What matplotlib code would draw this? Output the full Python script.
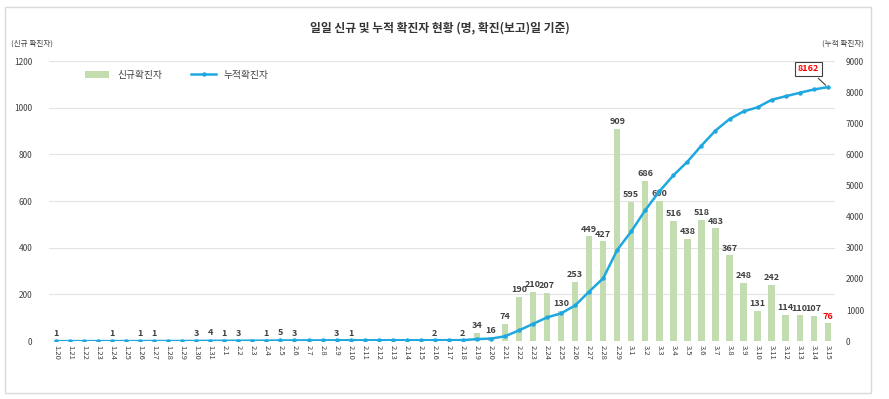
import matplotlib
matplotlib.use("Agg")
import matplotlib.pyplot as plt
from matplotlib.patches import Rectangle

plt.rcParams["font.family"] = ["Noto Sans CJK KR", "DejaVu Sans"]

dates = [
    "1.20", "1.21", "1.22", "1.23", "1.24", "1.25", "1.26", "1.27", "1.28", "1.29",
    "1.30", "1.31", "2.1", "2.2", "2.3", "2.4", "2.5", "2.6", "2.7", "2.8", "2.9",
    "2.10", "2.11", "2.12", "2.13", "2.14", "2.15", "2.16", "2.17", "2.18", "2.19",
    "2.20", "2.21", "2.22", "2.23", "2.24", "2.25", "2.26", "2.27", "2.28", "2.29",
    "3.1", "3.2", "3.3", "3.4", "3.5", "3.6", "3.7", "3.8", "3.9", "3.10", "3.11",
    "3.12", "3.13", "3.14", "3.15",
]
daily = [
    1, 0, 0, 0, 1, 0, 1, 1, 0, 0,
    3, 4, 1, 3, 0, 1, 5, 3, 0, 0, 3,
    1, 0, 0, 0, 0, 0, 2, 0, 2, 34,
    16, 74, 190, 210, 207, 130, 253, 449, 427, 909,
    595, 686, 600, 516, 438, 518, 483, 367, 248, 131, 242,
    114, 110, 107, 76,
]
cumulative = [
    1, 1, 1, 1, 2, 2, 3, 4, 4, 4,
    7, 11, 12, 15, 15, 16, 21, 24, 24, 24, 27,
    28, 28, 28, 28, 28, 28, 30, 30, 32, 66,
    82, 156, 346, 556, 763, 893, 1146, 1595, 2022, 2931,
    3526, 4212, 4812, 5328, 5766, 6284, 6767, 7134, 7382, 7513, 7755,
    7869, 7979, 8086, 8162,
]

bar_color = "#c4ddb0"
line_color = "#1fa8e0"
text_color = "#404040"

fig = plt.figure(figsize=(8.89, 3.99), dpi=100)
fig.patches.append(Rectangle((0.006, 0.015), 0.974, 0.968, transform=fig.transFigure,
                             fill=False, edgecolor="#d9d9d9", linewidth=1.0))

ax = fig.add_axes([0.055, 0.145, 0.884, 0.702])
x = list(range(len(dates)))

ax.bar(x, daily, width=0.45, color=bar_color, label="신규확진자", zorder=2)
ax.set_ylim(0, 1200)
ax.set_yticks(range(0, 1201, 200))
ax.set_xlim(-0.5, len(dates) - 0.5)
ax.set_xticks(x)
ax.set_xticklabels(dates, rotation=-90, fontsize=5.5, color=text_color)
ax.tick_params(axis="y", labelsize=6, colors=text_color, length=0, pad=12)
ax.tick_params(axis="x", length=0, pad=3)
ax.grid(axis="y", color="#e3e3e3", linewidth=0.8, zorder=0)
ax.set_axisbelow(True)
for s in ax.spines.values():
    s.set_visible(False)

for i, v in enumerate(daily):
    if v > 0:
        ax.text(i, v + 12, str(v), ha="center", va="bottom", fontsize=6.5,
                fontweight="bold", color="#ff0000" if i == len(daily) - 1 else text_color,
                zorder=5)

ax2 = ax.twinx()
ax2.plot(x, cumulative, color=line_color, linewidth=1.8, marker="o", markersize=2.2,
         label="누적확진자", zorder=4)
ax2.set_ylim(0, 9000)
ax2.set_yticks(range(0, 9001, 1000))
ax2.tick_params(axis="y", labelsize=6, colors=text_color, length=0, pad=8)
for s in ax2.spines.values():
    s.set_visible(False)

ax2.annotate("8162", xy=(x[-1], cumulative[-1]), xytext=(x[-1] - 1.4, 8750),
             ha="center", va="center", fontsize=6.5, fontweight="bold", color="#ff0000",
             bbox=dict(boxstyle="square,pad=0.3", fc="white", ec="#404040", lw=0.8),
             arrowprops=dict(arrowstyle="-", color="#404040", lw=0.8))

h1, l1 = ax.get_legend_handles_labels()
h2, l2 = ax2.get_legend_handles_labels()
ax.legend(h1 + h2, l1 + l2, loc="upper left", bbox_to_anchor=(0.035, 1.0), ncol=2,
          frameon=False, fontsize=7, handlelength=2.5, columnspacing=3,
          labelcolor=text_color)

fig.text(0.495, 0.93, "일일 신규 및 누적 확진자 현황 (명, 확진(보고)일 기준)",
         ha="center", va="center", fontsize=8.5, fontweight="bold", color="#333333")
fig.text(0.012, 0.89, "(신규 확진자)", ha="left", va="center", fontsize=5.5, color=text_color)
fig.text(0.972, 0.89, "(누적 확진자)", ha="right", va="center", fontsize=5.5, color=text_color)

fig.savefig("out.png", dpi=100)
